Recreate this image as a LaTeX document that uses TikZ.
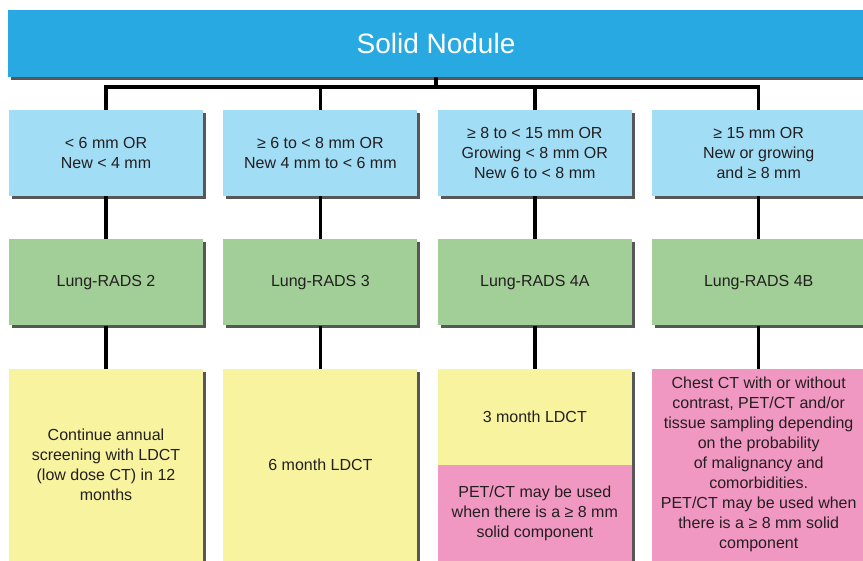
\documentclass[tikz,border=0pt]{standalone}
\usepackage{fontspec}
\setmainfont{Liberation Sans}
\usepackage{tikz}
\usetikzlibrary{positioning,shadows}
\definecolor{topblue}{HTML}{29A9E1}
\definecolor{critblue}{HTML}{A2DDF6}
\definecolor{radsgreen}{HTML}{A2CE97}
\definecolor{fuyellow}{HTML}{F8F39E}
\definecolor{petpink}{HTML}{F198C2}
\definecolor{textgray}{HTML}{231F20}
\definecolor{shadegray}{HTML}{3A3A3A}

\begin{document}
\begin{tikzpicture}[
    x=1pt, y=1pt,
    font=\fontsize{16}{20}\selectfont,
    box/.style={align=center, inner sep=2pt, text=textgray,
      minimum width=194pt, minimum height=86pt,
      drop shadow={opacity=0.85,shadow xshift=3pt,shadow yshift=-3pt,fill=shadegray}},
    head/.style={box, fill=topblue, text=white, minimum width=856pt, minimum height=67pt,
      font=\fontsize{28}{32}\selectfont},
    crit/.style={box, fill=critblue},
    rads/.style={box, fill=radsgreen},
    fu/.style={box, fill=fuyellow, minimum height=192pt},
    pet/.style={box, fill=petpink, minimum height=192pt},
    link/.style={draw=black, line width=3.5pt}
  ]
    \useasboundingbox (0,0) rectangle (863,561);
    \node[head] (solid) at (436,517.5) {Solid Nodule};
    \node[crit] (crit1) at (106,408) {< 6 mm OR\\New < 4 mm};
    \node[crit, right=20pt of crit1] (crit2) {≥ 6 to < 8 mm OR\\New 4 mm to < 6 mm};
    \node[crit, right=20pt of crit2] (crit3) {≥ 8 to < 15 mm OR\\Growing < 8 mm OR\\New 6 to < 8 mm};
    \node[crit, right=20pt of crit3, minimum width=213pt] (crit4) {≥ 15 mm OR\\New or growing\\and ≥ 8 mm};
    \node[rads, below=43pt of crit1] (rads1) {Lung-RADS 2};
    \node[rads, below=43pt of crit2] (rads2) {Lung-RADS 3};
    \node[rads, below=43pt of crit3] (rads3) {Lung-RADS 4A};
    \node[rads, below=43pt of crit4, minimum width=213pt] (rads4) {Lung-RADS 4B};
    \node[fu, below=43pt of rads1] (fu1) {Continue annual\\screening with LDCT\\(low dose CT) in 12\\months};
    \node[fu, below=43pt of rads2] (fu2) {6 month LDCT};
    \node[fu, below=43pt of rads3, minimum height=96pt] (fu3) {3 month LDCT};
    \node[pet, below=0pt of fu3, minimum height=96pt] (pet3) {PET/CT may be used\\when there is a ≥ 8 mm\\solid component};
    \node[pet, below=43pt of rads4, minimum width=213pt] (pet4) {Chest CT with or without\\contrast, PET/CT and/or\\tissue sampling depending\\on the probability\\of malignancy and\\comorbidities.\\PET/CT may be used when\\there is a ≥ 8 mm solid\\component};
    % connexions
    \coordinate (bar) at ([yshift=-10pt]solid.south);
    \draw[link] (solid.south) -- (bar);
    \draw[link] (crit1.north) -- (crit1.north|-bar) -- (crit4.north|-bar) -- (crit4.north);
    \draw[link] (crit2.north) -- (crit2.north|-bar);
    \draw[link] (crit3.north) -- (crit3.north|-bar);
    \foreach \c in {1,2,3,4}
      \draw[link] (crit\c.south) -- (rads\c.north);
    \draw[link] (rads1.south) -- (fu1.north);
    \draw[link] (rads2.south) -- (fu2.north);
    \draw[link] (rads3.south) -- (fu3.north);
    \draw[link] (rads4.south) -- (pet4.north);
  \end{tikzpicture}
\end{document}
